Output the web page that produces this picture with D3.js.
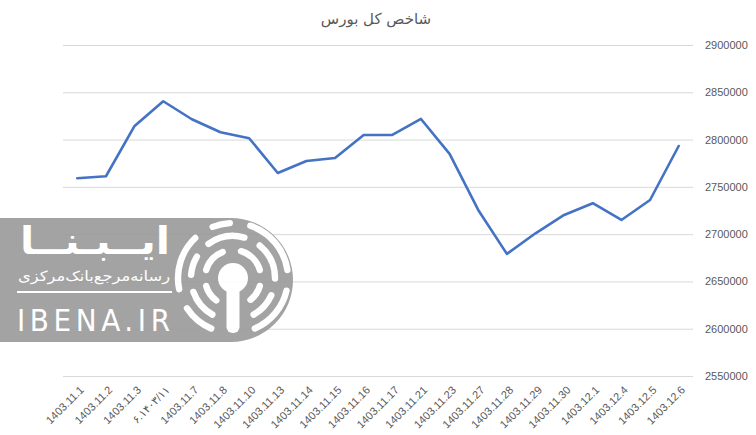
<!DOCTYPE html>
<html><head><meta charset="utf-8">
<script src="https://cdn.jsdelivr.net/npm/d3@7"></script>
<style>
html,body{margin:0;padding:0;background:#fff;}
svg{display:block;}
</style></head>
<body>
<svg id="chart" width="756" height="435"></svg>
<script>
const categories = ["1403.11.1","1403.11.2","1403.11.3","۶.۱۴۰۳/۱۱","1403.11.7","1403.11.8","1403.11.10","1403.11.13","1403.11.14","1403.11.15","1403.11.16","1403.11.17","1403.11.21","1403.11.23","1403.11.27","1403.11.28","1403.11.29","1403.11.30","1403.12.1","1403.12.4","1403.12.5","1403.12.6"];
const indexValues = [2759100,2761200,2814400,2840500,2821500,2807700,2801400,2764700,2777400,2780500,2804900,2804900,2821800,2784800,2725600,2679100,2700900,2720300,2732700,2715000,2736100,2793200];
const yTicks = [2550000,2600000,2650000,2700000,2750000,2800000,2850000,2900000];
const title = "شاخص کل بورس";

const svg = d3.select("#chart");
const L = 63, R = 693, T = 45, B = 376;

const x = d3.scalePoint().domain(categories).range([L, R]).padding(0.5);
const y = d3.scaleLinear().domain([2550000, 2900000]).range([B, T]);

// title
svg.append("text").attr("x", 376).attr("y", 24).attr("text-anchor", "middle")
  .attr("font-family", "'DejaVu Sans', sans-serif").attr("font-size", 15)
  .attr("fill", "#595959").text(title);

// y axis with gridlines (right side)
const ya = svg.append("g").attr("transform", `translate(${R},0)`)
  .call(d3.axisRight(y).tickValues(yTicks).tickSize(-(R - L)).tickPadding(12).tickFormat(d3.format("d")));
ya.select(".domain").remove();
ya.selectAll(".tick line").attr("stroke", "#d9d9d9").attr("stroke-width", 1);
ya.selectAll(".tick text").attr("fill", "#595959").attr("font-size", 11)
  .attr("font-family", "'Liberation Sans', Arial, sans-serif");

// x axis
const xa = svg.append("g").attr("transform", `translate(0,${B})`)
  .call(d3.axisBottom(x).tickSize(0).tickPadding(0));
xa.select(".domain").remove();
xa.selectAll(".tick text").attr("fill", "#595959").attr("font-size", 11)
  .attr("font-family", "'Liberation Sans', 'DejaVu Sans', Arial, sans-serif")
  .attr("text-anchor", "end").attr("direction", "ltr")
  .attr("y", 0).attr("dy", "0.35em")
  .attr("transform", "translate(4,12) rotate(-45)");

// line
svg.append("path").datum(indexValues)
  .attr("fill", "none").attr("stroke", "#4472C4").attr("stroke-width", 2.6)
  .attr("stroke-linejoin", "round").attr("stroke-linecap", "round")
  .attr("d", d3.line().x((d, i) => x(categories[i])).y(d => y(d)));

// watermark
const wm = svg.append("g").attr("opacity", 0.9);
wm.append("path").attr("d", "M0,218 H231 A62,62 0 0 1 231,342 H0 Z").attr("fill", "#9a9a9a");
wm.append("text").attr("x", 95).attr("y", 254).attr("text-anchor", "middle")
  .attr("font-family", "'DejaVu Sans', sans-serif").attr("font-weight", "bold").attr("font-size", 38)
  .attr("fill", "#fff").attr("textLength", 150).attr("lengthAdjust", "spacingAndGlyphs").text("ایــبـنــا");
wm.append("text").attr("x", 94).attr("y", 281).attr("text-anchor", "middle")
  .attr("font-family", "'DejaVu Sans', sans-serif").attr("font-size", 14)
  .attr("fill", "#fff").attr("textLength", 152).attr("lengthAdjust", "spacingAndGlyphs").text("رسانه‌مرجع‌بانک‌مرکزی");
wm.append("rect").attr("x", 17).attr("y", 291).attr("width", 155).attr("height", 2).attr("fill", "#fff");
wm.append("text").attr("x", 17).attr("y", 331)
  .attr("font-family", "'DejaVu Sans Condensed','Liberation Sans', sans-serif").attr("font-size", 31)
  .attr("fill", "#fff").attr("textLength", 153).attr("lengthAdjust", "spacing").text("IBENA.IR");

const cx = 233, cy = 278;
const icon = wm.append("g").attr("transform", `translate(${cx},${cy})`);
icon.append("circle").attr("r", 15).attr("fill", "#fff");
icon.append("rect").attr("x", -6.5).attr("y", 0).attr("width", 13).attr("height", 55).attr("rx", 6).attr("fill", "#fff");
const rings = [
  {r: 28, segs: [[-150,-100],[-80,-15],[10,80],[100,148]]},
  {r: 42, segs: [[-155,-105],[-90,-55],[-40,20],[35,95],[110,155]]},
  {r: 55, segs: [[-160,-120],[-105,-40],[-25,0],[15,85],[100,160]]}
];
const rad = Math.PI / 180;
rings.forEach(rg => {
  rg.segs.forEach(s => {
    icon.append("path").attr("fill", "#fff")
      .attr("d", d3.arc().innerRadius(rg.r - 3.2).outerRadius(rg.r + 3.2).cornerRadius(3.2)
        .startAngle(s[0] * rad).endAngle(s[1] * rad)());
  });
});
</script>
</body></html>
